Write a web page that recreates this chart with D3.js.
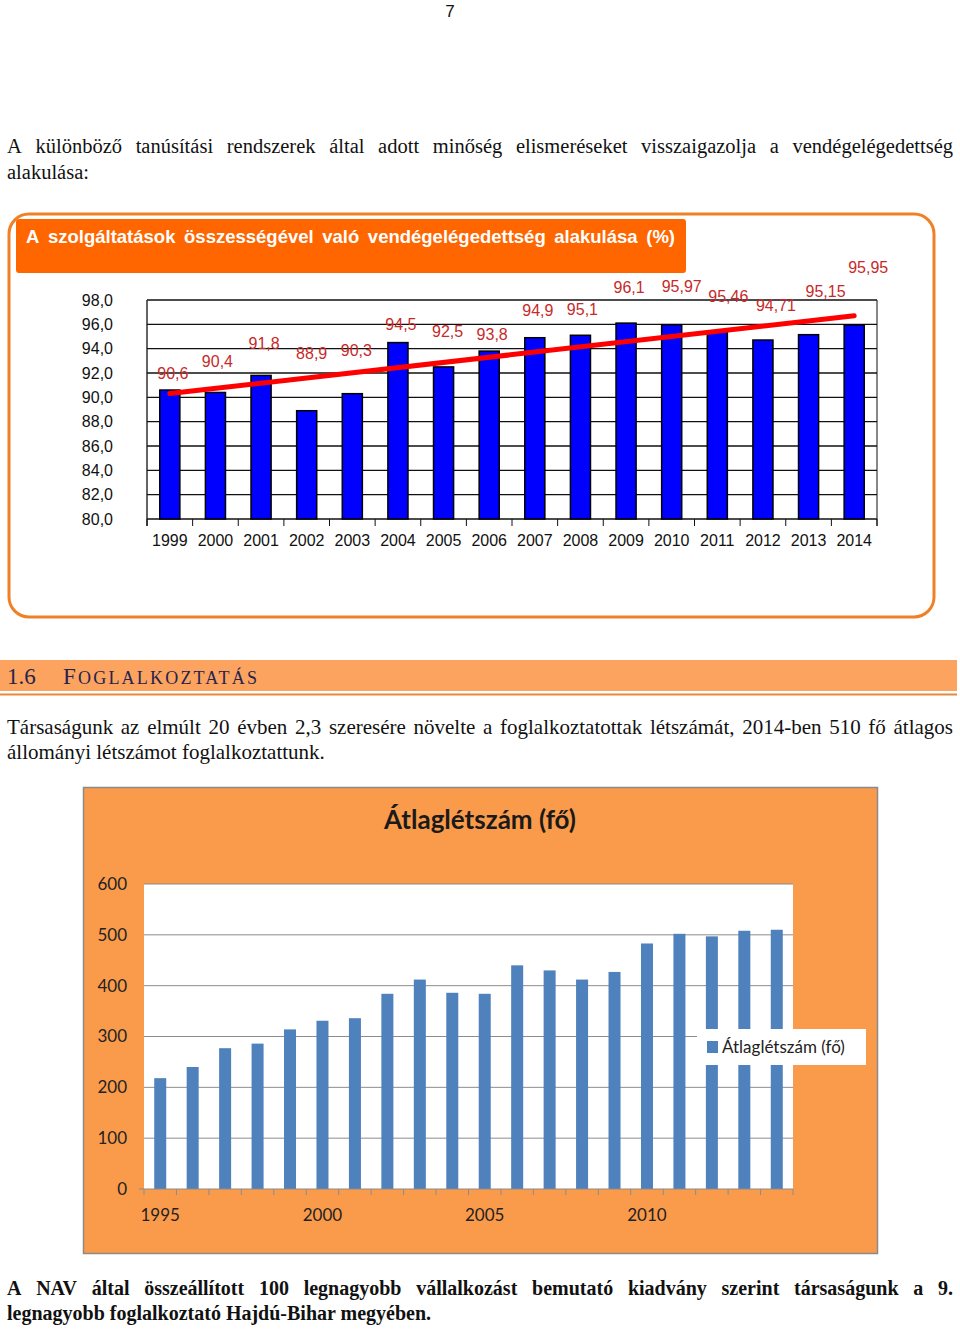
<!DOCTYPE html>
<html><head><meta charset="utf-8">
<script src="https://cdn.jsdelivr.net/npm/d3@7"></script>
<style>html,body{margin:0;padding:0;background:#fff}svg{display:block}</style>
</head><body>
<script>
// ---------- data ----------
const years1 = ["1999","2000","2001","2002","2003","2004","2005","2006","2007","2008","2009","2010","2011","2012","2013","2014"];
const satisfaction = [90.6,90.4,91.8,88.9,90.3,94.5,92.5,93.8,94.9,95.1,96.1,95.97,95.46,94.71,95.15,95.95];
const satLabels = ["90,6","90,4","91,8","88,9","90,3","94,5","92,5","93,8","94,9","95,1","96,1","95,97","95,46","94,71","95,15","95,95"];
const satTicks = [80,82,84,86,88,90,92,94,96,98];
// label placement offsets (px), as positioned in the original
const labelLift = [17,31,32,57,43,18,36,17,27,26,36,38,35,35,43,58];
const labelShift = [3,2,3,5,4,3,4,3,3,2,3,10,11,13,17,14];

const years2 = d3.range(1995, 2015).map(String);
const headcount = [218,240,277,286,314,331,336,384,412,386,384,440,430,412,427,483,502,497,508,510];
const headTicks = [0,100,200,300,400,500,600];
const headXLabels = ["1995","2000","2005","2010"];

const W = 960, H = 1329;
const svg = d3.select("body").append("svg").attr("width", W).attr("height", H);
svg.append("rect").attr("width", W).attr("height", H).attr("fill", "#fff");

const serif = "'Liberation Serif', 'DejaVu Serif', serif";
const sans = "'Liberation Sans', Arial, sans-serif";
const cal = "Lato, 'Open Sans', sans-serif";

// page number
svg.append("text").attr("x", 450).attr("y", 17).attr("text-anchor", "middle")
  .attr("font-family", sans).attr("font-size", 17).attr("fill", "#111").text("7");

// place words so that the line spans [x0, x0+width] (justification via word gaps)
function wordLine(txt, x0, y, width, attrs) {
  const g = svg.append("text").attr("x", x0).attr("y", y);
  Object.entries(attrs).forEach(([k, v]) => g.attr(k, v));
  const words = txt.split(/\s+/);
  const spans = words.map(w => g.append("tspan").text(w));
  if (width && words.length > 1) {
    const widths = spans.map(s => s.node().getComputedTextLength());
    const gap = (width - d3.sum(widths)) / (words.length - 1);
    let x = x0;
    spans.forEach((s, i) => { s.attr("x", x); x += widths[i] + gap; });
  } else {
    spans.forEach((s, i) => { if (i > 0) s.text(" " + words[i]); });
  }
  return g;
}
function para(txt, y, opts = {}) {
  return wordLine(txt, 7, y, opts.justify ? 946 : null, {
    "font-family": serif, "font-size": opts.size || 20.5,
    "font-weight": opts.bold ? "bold" : "normal", "fill": "#111"
  });
}
para("A különböző tanúsítási rendszerek által adott minőség elismeréseket visszaigazolja a vendégelégedettség", 153, {justify: true});
para("alakulása:", 179);

// ---------- top chart ----------
svg.append("rect").attr("x", 9).attr("y", 214).attr("width", 925).attr("height", 403).attr("rx", 20)
  .attr("fill", "#fff").attr("stroke", "#f08026").attr("stroke-width", 3);
svg.append("rect").attr("x", 16).attr("y", 219).attr("width", 670).attr("height", 54).attr("rx", 3).attr("fill", "#ff6600");
wordLine("A szolgáltatások összességével való vendégelégedettség alakulása (%)", 26, 243, 649, {
  "font-family": sans, "font-weight": "bold", "font-size": 18.5, "fill": "#fff"
});

const x1 = d3.scaleBand().domain(years1).range([147, 877]).paddingInner(0.56).paddingOuter(0.28);
const y1 = d3.scaleLinear().domain([80, 98]).range([519, 300]);

const g1 = svg.append("g");
g1.selectAll("line.grid").data(satTicks).join("line")
  .attr("x1", 147).attr("x2", 877).attr("y1", d => y1(d)).attr("y2", d => y1(d))
  .attr("stroke", "#111").attr("stroke-width", 1.3);
g1.append("line").attr("x1", 147).attr("x2", 147).attr("y1", y1(98)).attr("y2", y1(80) + 7).attr("stroke", "#111").attr("stroke-width", 1.3);
g1.append("line").attr("x1", 877).attr("x2", 877).attr("y1", y1(98)).attr("y2", y1(80) + 7).attr("stroke", "#111").attr("stroke-width", 1);
const step1 = x1.step();
g1.selectAll("line.tick").data(d3.range(years1.length + 1)).join("line")
  .attr("x1", i => 147 + i * step1).attr("x2", i => 147 + i * step1)
  .attr("y1", y1(80)).attr("y2", y1(80) + 7).attr("stroke", "#111").attr("stroke-width", 1);
g1.selectAll("text.yl").data(satTicks).join("text")
  .attr("x", 113).attr("y", d => y1(d)).attr("dy", "0.35em").attr("text-anchor", "end")
  .attr("font-family", sans).attr("font-size", 16).attr("fill", "#111")
  .text(d => d.toFixed(1).replace(".", ","));
g1.selectAll("text.xl").data(years1).join("text")
  .attr("x", d => x1(d) + x1.bandwidth() / 2).attr("y", 540).attr("dy", "0.35em").attr("text-anchor", "middle")
  .attr("font-family", sans).attr("font-size", 16).attr("fill", "#111").text(d => d);
g1.selectAll("rect.bar").data(satisfaction).join("rect")
  .attr("x", (d, i) => x1(years1[i])).attr("width", x1.bandwidth())
  .attr("y", d => y1(d)).attr("height", d => y1(80) - y1(d))
  .attr("fill", "#0000ff").attr("stroke", "#000").attr("stroke-width", 1.5);

// linear trend
const n = satisfaction.length, mx = (n - 1) / 2, my = d3.mean(satisfaction);
const sxy = d3.sum(satisfaction, (v, i) => (i - mx) * (v - my));
const sxx = d3.sum(satisfaction, (v, i) => (i - mx) * (i - mx));
const slope = sxy / sxx, icpt = my - slope * mx;
g1.append("line")
  .attr("x1", x1(years1[0]) + x1.bandwidth() / 2).attr("y1", y1(icpt))
  .attr("x2", x1(years1[n - 1]) + x1.bandwidth() / 2).attr("y2", y1(icpt + slope * (n - 1)))
  .attr("stroke", "#ff0000").attr("stroke-width", 5).attr("stroke-linecap", "round");

g1.selectAll("text.vl").data(satisfaction).join("text")
  .attr("x", (d, i) => x1(years1[i]) + x1.bandwidth() / 2 + labelShift[i])
  .attr("y", (d, i) => y1(d) - labelLift[i]).attr("dy", "0.35em").attr("text-anchor", "middle")
  .attr("font-family", sans).attr("font-size", 16).attr("fill", "#c62a2a").text((d, i) => satLabels[i]);

// ---------- section header ----------
svg.append("rect").attr("x", 0).attr("y", 660).attr("width", 957).attr("height", 31).attr("fill", "#fba35f");
svg.append("line").attr("x1", 0).attr("x2", 957).attr("y1", 694.5).attr("y2", 694.5).attr("stroke", "#e9873b").attr("stroke-width", 2);
svg.append("text").attr("x", 7).attr("y", 684).attr("font-family", serif).attr("font-size", 23).attr("fill", "#26244e").text("1.6");
const sh = svg.append("text").attr("x", 63).attr("y", 684).attr("font-family", serif).attr("fill", "#26244e")
  .attr("textLength", 194).attr("lengthAdjust", "spacing");
sh.append("tspan").attr("font-size", 23).text("F");
sh.append("tspan").attr("font-size", 18).text("OGLALKOZTATÁS");

para("Társaságunk az elmúlt 20 évben 2,3 szeresére növelte a foglalkoztatottak létszámát, 2014-ben 510 fő átlagos", 734, {justify: true, size: 21});
para("állományi létszámot foglalkoztattunk.", 759, {size: 21});

// ---------- bottom chart ----------
svg.append("rect").attr("x", 83.5).attr("y", 787.5).attr("width", 794).attr("height", 466)
  .attr("fill", "#fa9b4b").attr("stroke", "#8a8a8a").attr("stroke-width", 1.5);
svg.append("text").attr("x", 480).attr("y", 829).attr("text-anchor", "middle")
  .attr("font-family", cal).attr("font-size", 26).attr("font-weight", "bold").attr("fill", "#1a1a1a").text("Átlaglétszám (fő)");

const x2 = d3.scaleBand().domain(years2).range([144, 793]).paddingInner(0.63).paddingOuter(0.315);
const y2 = d3.scaleLinear().domain([0, 600]).range([1189, 884]);
const g2 = svg.append("g");
g2.append("rect").attr("x", 144).attr("y", y2(600)).attr("width", 649).attr("height", y2(0) - y2(600)).attr("fill", "#fff");
g2.selectAll("line.grid").data(headTicks.slice(1)).join("line")
  .attr("x1", 144).attr("x2", 793).attr("y1", d => y2(d)).attr("y2", d => y2(d))
  .attr("stroke", "#8c8c8c").attr("stroke-width", 1);
g2.selectAll("rect.bar").data(headcount).join("rect")
  .attr("x", (d, i) => x2(years2[i])).attr("width", x2.bandwidth())
  .attr("y", d => y2(d)).attr("height", d => y2(0) - y2(d)).attr("fill", "#4f81bd");
g2.append("line").attr("x1", 139).attr("x2", 793).attr("y1", y2(0)).attr("y2", y2(0)).attr("stroke", "#8c8c8c").attr("stroke-width", 1.2);
const step2 = x2.step();
g2.selectAll("line.tick").data(d3.range(years2.length + 1)).join("line")
  .attr("x1", i => 144 + i * step2).attr("x2", i => 144 + i * step2)
  .attr("y1", y2(0)).attr("y2", y2(0) + 6).attr("stroke", "#8c8c8c").attr("stroke-width", 1);
g2.selectAll("text.yl").data(headTicks).join("text")
  .attr("x", 127).attr("y", d => y2(d)).attr("dy", "0.35em").attr("text-anchor", "end")
  .attr("font-family", cal).attr("font-size", 17).attr("fill", "#222").text(d => d);
g2.selectAll("text.xl").data(headXLabels).join("text")
  .attr("x", d => x2(d) + x2.bandwidth() / 2).attr("y", 1215).attr("dy", "0.35em").attr("text-anchor", "middle")
  .attr("font-family", cal).attr("font-size", 17).attr("fill", "#222").text(d => d);
// legend
g2.append("rect").attr("x", 697).attr("y", 1029).attr("width", 169).attr("height", 36).attr("fill", "#fff");
g2.append("rect").attr("x", 707).attr("y", 1041).attr("width", 11).attr("height", 12).attr("fill", "#4f81bd");
g2.append("text").attr("x", 722).attr("y", 1047).attr("dy", "0.35em").attr("font-family", cal)
  .attr("font-size", 17).attr("fill", "#222").text("Átlaglétszám (fő)");

// bottom text
para("A NAV által összeállított 100 legnagyobb vállalkozást bemutató kiadvány szerint társaságunk a 9.", 1295, {justify: true, bold: true, size: 20});
para("legnagyobb foglalkoztató Hajdú-Bihar megyében.", 1320, {bold: true, size: 20});
</script>
</body></html>
